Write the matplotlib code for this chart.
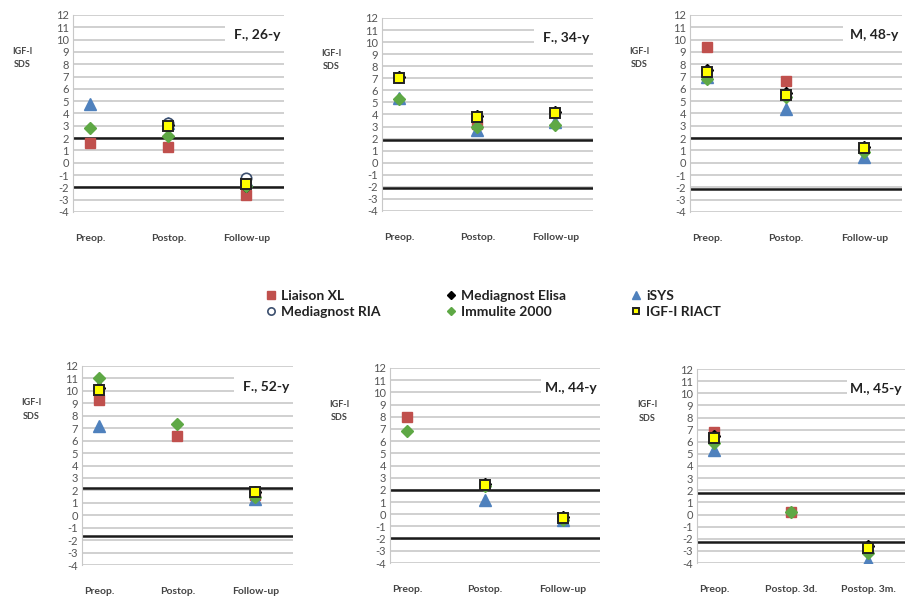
import numpy as np
import matplotlib
matplotlib.use('Agg')
import matplotlib.pyplot as plt
from matplotlib.lines import Line2D
from matplotlib.patches import Rectangle

nan = np.nan

# panel titles and x categories
titles = ['F., 26-y', 'F., 34-y', 'M, 48-y', 'F., 52-y', 'M., 44-y', 'M., 45-y']
cats = ['Preop.', 'Postop.', 'Follow-up']
cats_last = ['Preop.', 'Postop. 3d.', 'Postop. 3m.']

# IGF-I SDS per assay, one row per panel (Preop, Postop, Follow-up)
liaison = [[1.6, 1.3, -2.6], [nan, 3.2, nan], [9.4, 6.6, nan],
           [9.3, 6.4, 1.6], [8.0, nan, nan], [6.8, 0.2, nan]]
elisa = [[nan, 3.1, -1.9], [7.1, 3.9, 4.2], [7.5, 5.7, 1.3],
         [10.2, nan, 1.9], [nan, 2.5, -0.2], [6.5, nan, -2.6]]
isys = [[4.8, 3.2, -1.4], [5.4, 2.7, 3.4], [7.0, 4.4, 0.5],
        [7.2, nan, 1.3], [nan, 1.2, -0.5], [5.3, nan, -3.8]]
ria = [[nan, 3.2, -1.2], [nan, nan, nan], [nan, nan, nan],
       [nan, nan, nan], [nan, nan, nan], [nan, nan, nan]]
immulite = [[2.8, 2.2, -1.9], [5.3, 3.0, 3.1], [6.8, 5.3, 0.9],
            [11.0, 7.3, 1.5], [6.8, 2.3, -0.5], [5.9, 0.2, -3.2]]
riact = [[nan, 3.0, -1.7], [7.0, 3.8, 4.1], [7.4, 5.5, 1.2],
         [10.1, nan, 1.9], [nan, 2.4, -0.3], [6.3, nan, -2.8]]

# normal range lines (upper, lower)
ref_upper = [2.0, 1.9, 2.0, 2.2, 2.0, 1.8]
ref_lower = [-2.0, -2.1, -2.1, -1.7, -1.95, -2.3]

series = [
    ('Liaison XL', liaison, dict(marker='s', ms=7.5, mfc='#c0504d', mec='#c0504d')),
    ('Mediagnost Elisa', elisa, dict(marker='D', ms=6, mfc='black', mec='black')),
    ('iSYS', isys, dict(marker='^', ms=8, mfc='#4f81bd', mec='#4f81bd')),
    ('Mediagnost RIA', ria, dict(marker='o', ms=7.5, mfc='white', mec='#3c4f6e', mew=1.2)),
    ('Immulite 2000', immulite, dict(marker='D', ms=6, mfc='#5ea845', mec='#5ea845')),
    ('IGF-I RIACT', riact, dict(marker='s', ms=7, mfc='#ffff00', mec='#222222', mew=1.4)),
]

plt.rcParams['font.family'] = ['Lato', 'DejaVu Sans']
plt.rcParams['axes.unicode_minus'] = False

fig = plt.figure(figsize=(9.12, 5.99), dpi=100)

# axes rectangles in pixels: left, right, top(y=12), bottom(y=-4)
boxes = [(73, 284, 15, 212), (382, 593, 18, 211), (690, 902, 15, 212),
         (82, 293, 366, 565), (390, 600, 368, 563), (697, 905, 369, 563)]
W, H = 912., 599.

for i, (l, r, t, b) in enumerate(boxes):
    ax = fig.add_axes([l / W, 1 - b / H, (r - l) / W, (b - t) / H])
    ax.set_ylim(-4, 12)
    ax.set_xlim(-0.22, 2.48)
    ax.set_yticks(range(-4, 13))
    ax.set_axisbelow(True)
    ax.grid(axis='y', color='#c8c8c8', lw=1.2)
    for s in ['top', 'right', 'bottom']:
        ax.spines[s].set_visible(False)
    ax.spines['left'].set_color('#c8c8c8')
    ax.tick_params(axis='y', length=0, labelsize=8, labelcolor='#555555', pad=3)
    ax.tick_params(axis='x', length=0, pad=16)
    ax.set_xticks([0, 1, 2])
    ax.set_xticklabels(cats_last if i == 5 else cats, fontsize=7.5,
                       fontweight='bold', color='#444444')

    ax.axhline(ref_upper[i], color='#1a1a1a', lw=1.8, zorder=1.5)
    ax.axhline(ref_lower[i], color='#1a1a1a', lw=1.8, zorder=1.5)

    # white title box over the grid
    ax.add_patch(Rectangle((0.72, 9.55), 0.28, 1.95, transform=ax.get_yaxis_transform(),
                           facecolor='white', edgecolor='none', zorder=1))
    ax.text(0.985, 10.35, titles[i], transform=ax.get_yaxis_transform(),
            ha='right', va='center', fontsize=10, fontweight='bold',
            color='#222222', zorder=2)

    ax.text(-0.24, 8.5, 'IGF-I\nSDS', transform=ax.get_yaxis_transform(),
            ha='center', va='center', fontsize=6.5, fontweight='bold',
            color='#444444', linespacing=1.6)

    for name, vals, st in series:
        ax.plot([0, 1, 2], vals[i], linestyle='none', zorder=3, **st)

# legend (row-major in Excel order, matplotlib fills columns)
handles = {}
for name, vals, st in series:
    st2 = dict(st)
    st2['ms'] = st['ms'] * 0.7
    handles[name] = Line2D([], [], linestyle='none', **st2)
order = ['Liaison XL', 'Mediagnost RIA', 'Mediagnost Elisa', 'Immulite 2000',
         'iSYS', 'IGF-I RIACT']
leg = fig.legend([handles[n] for n in order], order, ncol=3, loc='center',
                 bbox_to_anchor=(0.54, 0.493), frameon=False,
                 prop=dict(size=10, weight='bold'), columnspacing=4.6,
                 handletextpad=0.2, handlelength=1.0, labelspacing=0.3)
for t in leg.get_texts():
    t.set_color('#222222')

fig.savefig('out.png', dpi=100)
